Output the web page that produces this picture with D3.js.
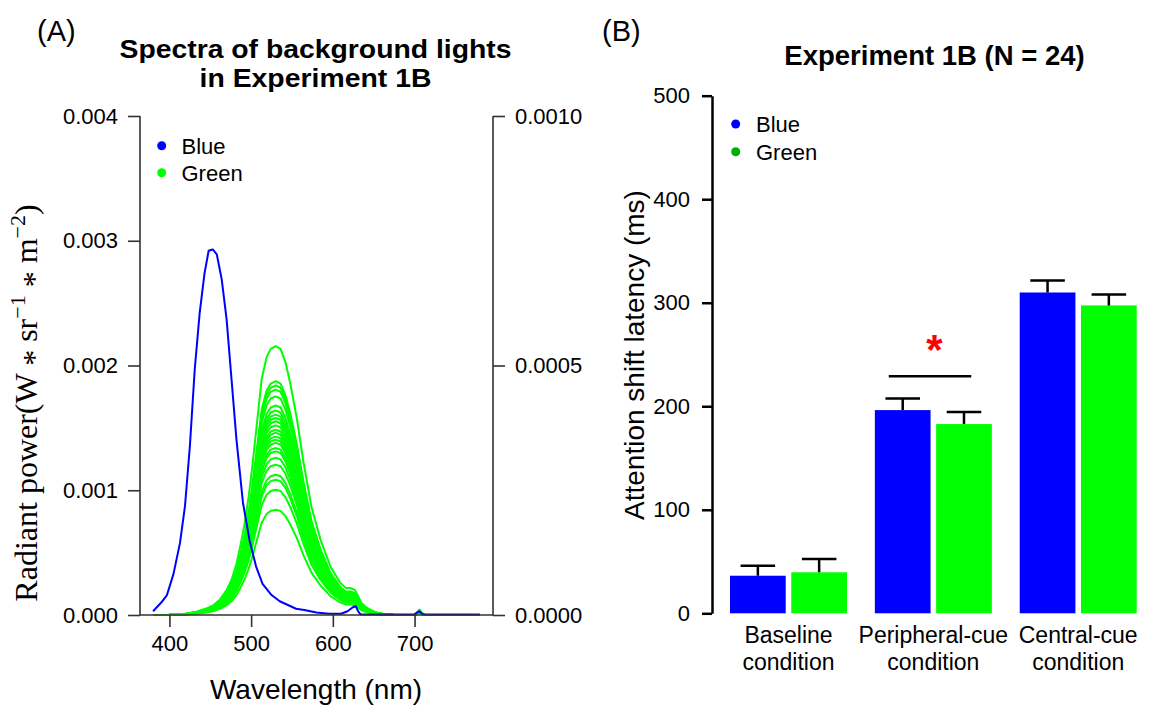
<!DOCTYPE html>
<html><head><meta charset="utf-8">
<script src="https://cdn.jsdelivr.net/npm/d3@7"></script>
<style>body{margin:0;background:#fff} svg{display:block}</style>
</head><body>
<svg id="chart" width="1150" height="709"></svg>
<script>
// ---------- Panel A data ----------
const blueWavelength = [380,390,397,405,413,419,425,431,437,443,448,453,458,464,470,476,482,490,498,506,514,525,535,545,555,565,580,595,610,618,624,628,631,634,650,700,703,706,709,712,780];
const blueRadiance   = [0.00003,0.00010,0.00016,0.00033,0.00058,0.00087,0.00135,0.00197,0.00242,0.00274,0.00292,0.00293,0.00289,0.00269,0.00237,0.00189,0.00141,0.00090,0.00060,0.00039,0.00025,0.00016,0.00011,0.00008,0.00005,0.00004,0.00002,0.00001,0.00001,0.00003,0.00006,0.00007,0.00003,0.000005,0.000005,0.000005,0.00002,0.00003,0.00001,0.000005,0.000005];
const greenWavelength = [380,400,420,433,445,454,462,470,476,482,487,492,497,501,507,513,519,524,530,536,542,548,556,564,574,585,597,609,616,622,627,631,635,641,648,655,663,675,700,703,706,709,712,780];
const greenShape      = [0,0.001,0.005,0.012,0.024,0.037,0.058,0.093,0.13,0.19,0.26,0.34,0.44,0.54,0.71,0.88,0.96,0.99,1.0,0.99,0.94,0.86,0.73,0.57,0.40,0.28,0.18,0.12,0.10,0.10,0.093,0.07,0.045,0.028,0.016,0.008,0.003,0,0,0.008,0.02,0.008,0,0];
const greenPeaks = [0.002155,0.001874,0.00184,0.001807,0.001753,0.00168,0.00164,0.001606,0.00158,0.001553,0.00152,0.001486,0.00146,0.00143,0.001406,0.00138,0.001339,0.001312,0.00126,0.001205,0.001124,0.001084,0.001004,0.000843];
const xTicksA = [400,500,600,700];
const yTicksLeftA = [0,0.001,0.002,0.003,0.004];
const yTicksRightA = [0,0.0005,0.0010];
const legendA = ["Blue","Green"];

// ---------- Panel B data ----------
const conditions = ["Baseline condition","Peripheral-cue condition","Central-cue condition"];
const conditionLines = [["Baseline","condition"],["Peripheral-cue","condition"],["Central-cue","condition"]];
const seriesNames = ["Blue","Green"];
const blueMeans = [36.3,196.3,309.9];
const greenMeans = [39.6,182.8,297.4];
const blueSE = [9.7,11.3,11.6];
const greenSE = [12.8,11.6,10.6];
const yTicksB = [0,100,200,300,400,500];
const sigValue = 229;

const svg = d3.select("#chart");
const SANS = "'Liberation Sans', Arial, sans-serif";
const SERIF = "'Liberation Serif', 'Times New Roman', serif";

// ================= Panel A =================
const xA = d3.scaleLinear().domain([364,796]).range([140,493]);
const yA = d3.scaleLinear().domain([0,0.004]).range([615,116]);
const yA2 = d3.scaleLinear().domain([0,0.001]).range([615,116]);
const gA = svg.append("g");

const lineA = d3.line().x(d=>xA(d[0])).y(d=>yA(d[1]));
greenPeaks.forEach(p=>{
  const pts = greenWavelength.map((w,i)=>[w, greenShape[i]*p]);
  gA.append("path").attr("d", lineA(pts)).attr("fill","none")
    .attr("stroke","#00ff00").attr("stroke-width",2).attr("stroke-linejoin","round");
});
gA.append("path").attr("d", lineA(blueWavelength.map((w,i)=>[w,blueRadiance[i]])))
  .attr("fill","none").attr("stroke","#0000ff").attr("stroke-width",2).attr("stroke-linejoin","round");

const axA = gA.append("g").attr("stroke","#333").attr("stroke-width",1.6).attr("fill","none");
axA.append("path").attr("d",`M${xA.range()[0]},${yA(0.004)}V${yA(0)}H${xA.range()[1]}V${yA(0.004)}`);
gA.append("g").attr("transform",`translate(${xA.range()[0]},0)`)
  .call(d3.axisLeft(yA).tickValues(yTicksLeftA).tickSize(12).tickSizeOuter(0).tickPadding(10).tickFormat(d3.format(".3f")))
  .call(g=>g.select(".domain").remove());
gA.append("g").attr("transform",`translate(${xA.range()[1]},0)`)
  .call(d3.axisRight(yA2).tickValues(yTicksRightA).tickSize(12).tickSizeOuter(0).tickPadding(10).tickFormat(d3.format(".4f")))
  .call(g=>g.select(".domain").remove());
gA.append("g").attr("transform",`translate(0,${yA(0)})`)
  .call(d3.axisBottom(xA).tickValues(xTicksA).tickSize(12).tickSizeOuter(0).tickPadding(8).tickFormat(d3.format("d")))
  .call(g=>g.select(".domain").remove());
gA.selectAll(".tick line").attr("stroke","#333").attr("stroke-width",1.6);
gA.selectAll(".tick text").attr("font-family",SANS).attr("font-size",22).attr("fill","#000");

const legColorsA = ["#0000ff","#00ff00"];
legendA.forEach((name,i)=>{
  gA.append("circle").attr("cx",161.7).attr("cy",145.7+27*i).attr("r",4.5).attr("fill",legColorsA[i]);
  gA.append("text").attr("x",181.5).attr("y",145.7+27*i+8).attr("font-family",SANS).attr("font-size",22).text(name);
});

gA.append("text").attr("x",315.5).attr("y",58).attr("text-anchor","middle").attr("font-family",SANS)
  .attr("font-weight","bold").attr("font-size",25).attr("textLength",392).attr("lengthAdjust","spacingAndGlyphs")
  .text("Spectra of background lights");
gA.append("text").attr("x",315.5).attr("y",87).attr("text-anchor","middle").attr("font-family",SANS)
  .attr("font-weight","bold").attr("font-size",25).attr("textLength",232).attr("lengthAdjust","spacingAndGlyphs")
  .text("in Experiment 1B");
gA.append("text").attr("x",316).attr("y",699).attr("text-anchor","middle").attr("font-family",SANS)
  .attr("font-size",28).text("Wavelength (nm)");
const yl = gA.append("text").attr("transform","translate(37,403) rotate(-90)").attr("text-anchor","middle")
  .attr("font-family",SERIF).attr("font-size",32);
yl.append("tspan").text("Radiant power(W ");
yl.append("tspan").attr("dy",8).text("*");
yl.append("tspan").attr("dy",-8).text(" sr");
yl.append("tspan").attr("dy",-12).attr("font-size",22).text("\u22121");
yl.append("tspan").attr("dy",12).text(" ");
yl.append("tspan").attr("dy",8).text("*");
yl.append("tspan").attr("dy",-8).text(" m");
yl.append("tspan").attr("dy",-12).attr("font-size",22).text("\u22122");
yl.append("tspan").attr("dy",12).text(")");

svg.append("text").attr("x",37).attr("y",41).attr("font-family",SANS).attr("font-size",29).text("(A)");
svg.append("text").attr("x",602).attr("y",41).attr("font-family",SANS).attr("font-size",29).text("(B)");

// ================= Panel B =================
const gB = svg.append("g");
const yB = d3.scaleLinear().domain([0,500]).range([613.3,95.7]);
const x0 = d3.scaleBand().domain(conditions).range([730,1136.7]).paddingInner(0.5/2.6).paddingOuter(0);
const x1 = d3.scaleBand().domain(seriesNames).range([0,x0.bandwidth()]).paddingInner(0.1/1.1).paddingOuter(0);
const colorB = d3.scaleOrdinal().domain(seriesNames).range(["#0000ff","#00ff00"]);
const barData = [];
conditions.forEach((c,i)=>{
  barData.push({c, s:"Blue", m:blueMeans[i], se:blueSE[i]});
  barData.push({c, s:"Green", m:greenMeans[i], se:greenSE[i]});
});
gB.selectAll("rect.bar").data(barData).join("rect").attr("class","bar")
  .attr("x",d=>x0(d.c)+x1(d.s)).attr("width",x1.bandwidth())
  .attr("y",d=>yB(d.m)).attr("height",d=>yB(0)-yB(d.m)).attr("fill",d=>colorB(d.s));
const capHalf = x1.bandwidth()*0.31;
barData.forEach(d=>{
  const cx = x0(d.c)+x1(d.s)+x1.bandwidth()/2;
  gB.append("path").attr("d",`M${cx},${yB(d.m)}V${yB(d.m+d.se)}M${cx-capHalf},${yB(d.m+d.se)}H${cx+capHalf}`)
    .attr("stroke","#000").attr("stroke-width",2.5).attr("fill","none");
});
const pc = conditions[1];
const sx1 = x0(pc)+x1("Blue")+x1.bandwidth()*0.25;
const sx2 = x0(pc)+x1("Green")+x1.bandwidth()*0.63;
gB.append("line").attr("x1",sx1).attr("x2",sx2).attr("y1",yB(sigValue)).attr("y2",yB(sigValue))
  .attr("stroke","#000").attr("stroke-width",2.5);
gB.append("text").attr("x",(x0(pc)+x1("Blue")+x0(pc)+x1("Green")+x1.bandwidth())/2+1).attr("y",yB(sigValue)-12)
  .attr("text-anchor","middle").attr("font-family",SANS).attr("font-weight","bold").attr("font-size",42)
  .attr("fill","#ff0000").text("*");
gB.append("g").attr("transform","translate(712,0)")
  .call(d3.axisLeft(yB).tickValues(yTicksB).tickSize(10).tickSizeOuter(0).tickPadding(12))
  .call(g=>{g.select(".domain").attr("stroke","#000").attr("stroke-width",2.5);
    g.selectAll(".tick line").attr("stroke","#000").attr("stroke-width",2.5);
    g.selectAll(".tick text").attr("font-family",SANS).attr("font-size",22).attr("fill","#000");});
conditions.forEach((c,i)=>{
  const cx = x0(c)+x0.bandwidth()/2;
  conditionLines[i].forEach((t,k)=>{
    gB.append("text").attr("x",cx).attr("y",643+27*k).attr("text-anchor","middle")
      .attr("font-family",SANS).attr("font-size",23).text(t);
  });
});
const legColorsB = ["#0000ff","#00b000"];
seriesNames.forEach((name,i)=>{
  gB.append("circle").attr("cx",735.7).attr("cy",124+27.7*i).attr("r",4.5).attr("fill",legColorsB[i]);
  gB.append("text").attr("x",756).attr("y",124+27.7*i+8).attr("font-family",SANS).attr("font-size",22).text(name);
});
gB.append("text").attr("x",934.5).attr("y",65).attr("text-anchor","middle").attr("font-family",SANS)
  .attr("font-weight","bold").attr("font-size",27.5).text("Experiment 1B (N = 24)");
gB.append("text").attr("transform","translate(644,355) rotate(-90)").attr("text-anchor","middle")
  .attr("font-family",SANS).attr("font-size",28).text("Attention shift latency (ms)");
</script>
</body></html>
